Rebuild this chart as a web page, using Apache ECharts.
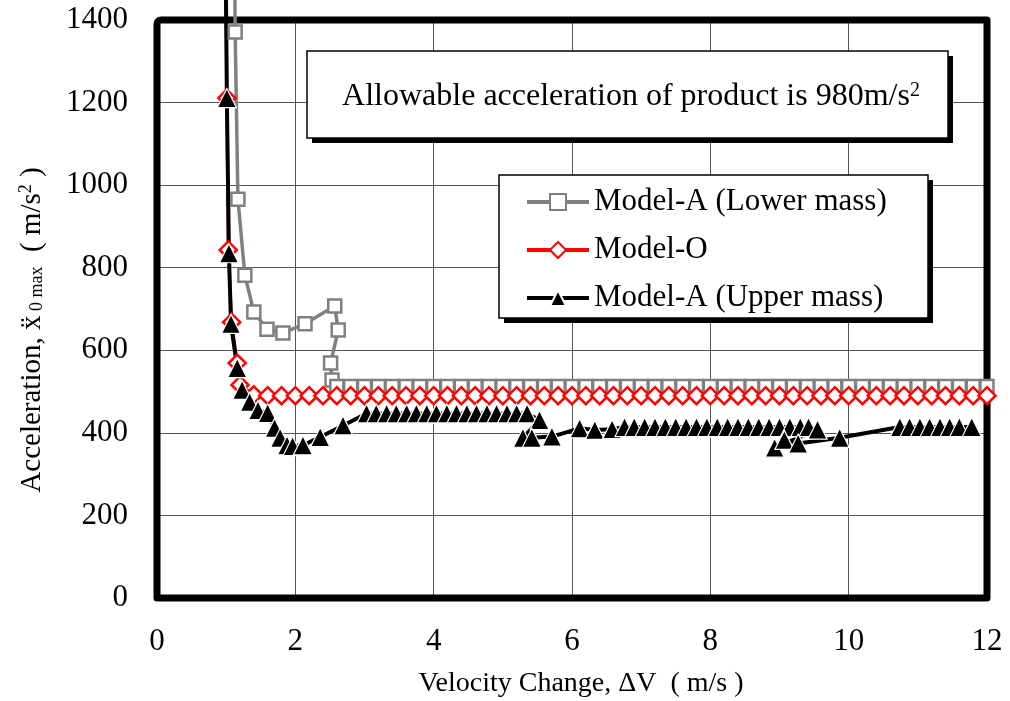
<!DOCTYPE html>
<html><head><meta charset="utf-8">
<script src="https://cdn.jsdelivr.net/npm/echarts@6/dist/echarts.min.js"></script>
<style>html,body{margin:0;padding:0;background:#fff}#c{width:1010px;height:701px}</style>
</head><body><div id="c"></div>
<script>
// ---- data ----
const xTickValues = [0, 2, 4, 6, 8, 10, 12];
const yTickValues = [0, 200, 400, 600, 800, 1000, 1200, 1400];
const seriesNames = ['Model-A (Lower mass)', 'Model-O', 'Model-A (Upper mass)'];

const lowerX = [1.12, 1.13, 1.17, 1.27, 1.40, 1.59, 1.82, 2.14, 2.57, 2.62, 2.51, 2.53,
  2.6, 2.8, 3.0, 3.2, 3.4, 3.6, 3.8, 4.0, 4.2, 4.4, 4.6, 4.8,
  5.0, 5.2, 5.4, 5.6, 5.8, 6.0, 6.2, 6.4, 6.6, 6.8, 7.0, 7.2,
  7.4, 7.6, 7.8, 8.0, 8.2, 8.4, 8.6, 8.8, 9.0, 9.2, 9.4, 9.6,
  9.8, 10.0, 10.2, 10.4, 10.6, 10.8, 11.0, 11.2, 11.4, 11.6, 11.8, 12.0];
const lowerY = [1600, 1371, 966, 782, 693, 651, 642, 664, 707, 649, 569, 528,
  512, 512, 512, 512, 512, 512, 512, 512, 512, 512, 512, 512,
  512, 512, 512, 512, 512, 512, 512, 512, 512, 512, 512, 512,
  512, 512, 512, 512, 512, 512, 512, 512, 512, 512, 512, 512,
  512, 512, 512, 512, 512, 512, 512, 512, 512, 512, 512, 512];

const modelOX = [0.99, 1.01, 1.03, 1.08, 1.16, 1.20, 1.4,
  1.6, 1.8, 2.0, 2.2, 2.4,
  2.6, 2.8, 3.0, 3.2, 3.4, 3.6, 3.8, 4.0, 4.2, 4.4, 4.6, 4.8,
  5.0, 5.2, 5.4, 5.6, 5.8, 6.0, 6.2, 6.4, 6.6, 6.8, 7.0, 7.2,
  7.4, 7.6, 7.8, 8.0, 8.2, 8.4, 8.6, 8.8, 9.0, 9.2, 9.4, 9.6,
  9.8, 10.0, 10.2, 10.4, 10.6, 10.8, 11.0, 11.2, 11.4, 11.6, 11.8, 12.0];
const modelOY = [1600, 1211, 843, 668, 569, 516, 492,
  490, 490, 490, 490, 490,
  490, 490, 490, 490, 490, 490, 490, 490, 490, 490, 490, 490,
  490, 490, 490, 490, 490, 490, 490, 490, 490, 490, 490, 490,
  490, 490, 490, 490, 490, 490, 490, 490, 490, 490, 490, 490,
  490, 490, 490, 490, 490, 490, 490, 490, 490, 490, 490, 490];

const upperX = [0.99, 1.01, 1.04, 1.07, 1.16, 1.23, 1.34, 1.46, 1.60, 1.70, 1.78, 1.88, 1.96, 2.11, 2.36, 2.69,
  3.03, 3.17, 3.32, 3.46, 3.61, 3.75, 3.90, 4.04, 4.19, 4.33, 4.48, 4.62, 4.77, 4.91, 5.06, 5.20, 5.35,
  5.53, 5.29, 5.42, 5.71, 6.11, 6.33, 6.58, 6.76,
  6.90, 7.05, 7.20, 7.35, 7.50, 7.65, 7.80, 7.95, 8.10, 8.25, 8.40, 8.55, 8.70, 8.85, 9.00, 9.15, 9.30, 9.42,
  9.55, 8.93, 9.07, 9.27, 9.87,
  10.74, 10.88, 11.03, 11.17, 11.32, 11.46, 11.60, 11.78];
const upperY = [1600, 1211, 835, 664, 557, 504, 475, 455, 448, 412, 388, 370, 368, 370, 390, 418,
  447, 447, 447, 447, 447, 447, 447, 447, 447, 447, 447, 447, 447, 447, 447, 447, 447,
  431, 388, 388, 391, 411, 407, 409, 414,
  414, 414, 414, 414, 414, 414, 414, 414, 414, 414, 414, 414, 414, 414, 414, 414, 414, 414,
  408, 364, 383, 374, 388,
  414, 414, 414, 414, 414, 414, 414, 414];

// ---- build chart ----
const SERIF = '"Liberation Serif", "Times New Roman", serif';
const zip = (xs, ys) => xs.map((x, i) => [x, ys[i]]);

const chart = echarts.init(document.getElementById('c'), null, { renderer: 'canvas' });
chart.setOption({
  animation: false,
  backgroundColor: '#fff',
  grid: { left: 157, right: 23, top: 20, bottom: 103 },
  xAxis: {
    type: 'value', min: xTickValues[0], max: xTickValues[xTickValues.length - 1], interval: 2,
    axisLine: { show: false }, axisTick: { show: false },
    splitLine: { show: true, lineStyle: { color: '#555', width: 1 } },
    axisLabel: { fontFamily: SERIF, fontSize: 31, color: '#000', margin: 28, formatter: v => String(v) }
  },
  yAxis: {
    type: 'value', min: yTickValues[0], max: yTickValues[yTickValues.length - 1], interval: 200,
    axisLine: { show: false }, axisTick: { show: false },
    splitLine: { show: true, lineStyle: { color: '#555', width: 1 } },
    axisLabel: { fontFamily: SERIF, fontSize: 31, color: '#000', margin: 29, formatter: v => String(v) }
  },
  legend: {
    orient: 'vertical', left: 525, top: 186,
    padding: 0, itemWidth: 62, itemHeight: 20, itemGap: 16,
    selectedMode: false,
    lineStyle: { width: 4 },
    textStyle: { fontFamily: SERIF, fontSize: 31, color: '#000', lineHeight: 32 },
    data: seriesNames
  },
  series: [
    { name: seriesNames[0], type: 'line', clip: false, data: zip(lowerX, lowerY),
      symbol: 'rect', symbolSize: 13,
      lineStyle: { color: '#808080', width: 3.5 },
      itemStyle: { color: '#fff', borderColor: '#808080', borderWidth: 2.5 } },
    { name: seriesNames[1], type: 'line', clip: false, data: zip(modelOX, modelOY),
      symbol: 'diamond', symbolSize: 17,
      lineStyle: { color: '#ff0000', width: 3 },
      itemStyle: { color: '#fff', borderColor: '#ff0000', borderWidth: 2.5 } },
    { name: seriesNames[2], type: 'line', clip: false, data: zip(upperX, upperY),
      symbol: 'triangle', symbolSize: 19,
      lineStyle: { color: '#000', width: 4 },
      itemStyle: { color: '#000', borderColor: '#fff', borderWidth: 1.2 } }
  ]
});

// frame and boxes positioned from the axes' own scale
const p0 = chart.convertToPixel({ gridIndex: 0 }, [xTickValues[0], yTickValues[0]]);
const p1 = chart.convertToPixel({ gridIndex: 0 }, [xTickValues[xTickValues.length - 1], yTickValues[yTickValues.length - 1]]);
chart.setOption({
  graphic: [
    { type: 'rect', z: 1, silent: true,
      shape: { x: p0[0], y: p1[1], width: p1[0] - p0[0], height: p0[1] - p1[1], r: [4, 0, 0, 0] },
      style: { fill: null, stroke: '#000', lineWidth: 7, lineJoin: 'round' } },
    // title box
    { type: 'rect', z: 10, shape: { x: 312, y: 56, width: 641, height: 87 }, style: { fill: '#000' } },
    { type: 'rect', z: 11, shape: { x: 307, y: 51, width: 641, height: 87 }, style: { fill: '#fff', stroke: '#000', lineWidth: 1.5 } },
    { type: 'text', x: 631, y: 97, z: 12,
      style: { text: 'Allowable acceleration of product is 980m/s{sup|2}', fontFamily: SERIF, fontSize: 32, fill: '#000',
        align: 'center', verticalAlign: 'middle',
        rich: { sup: { fontFamily: SERIF, fontSize: 20, verticalAlign: 'top', lineHeight: 16 } } } },
    // legend box (legend itself drawn above it)
    { type: 'rect', z: 3, shape: { x: 504, y: 180, width: 429, height: 143 }, style: { fill: '#000' } },
    { type: 'rect', z: 3, shape: { x: 499, y: 175, width: 429, height: 143 }, style: { fill: '#fff', stroke: '#000', lineWidth: 1.5 } },
    // axis names
    { type: 'text', x: 581, y: 684, z: 12,
      style: { text: 'Velocity Change, \u0394V  ( m/s )', fontFamily: SERIF, fontSize: 28, fill: '#000', align: 'center', verticalAlign: 'middle' } },
    { type: 'text', x: 32, y: 330, rotation: Math.PI / 2, z: 12,
      style: { text: 'Acceleration, \u1E8D{sub| 0 max}  ( m/s{sup|2} )', fontFamily: SERIF, fontSize: 29, fill: '#000',
        align: 'center', verticalAlign: 'middle',
        rich: {
          sub: { fontFamily: SERIF, fontSize: 18, verticalAlign: 'bottom', lineHeight: 16 },
          sup: { fontFamily: SERIF, fontSize: 18, verticalAlign: 'top', lineHeight: 14 }
        } } }
  ]
});
</script></body></html>
